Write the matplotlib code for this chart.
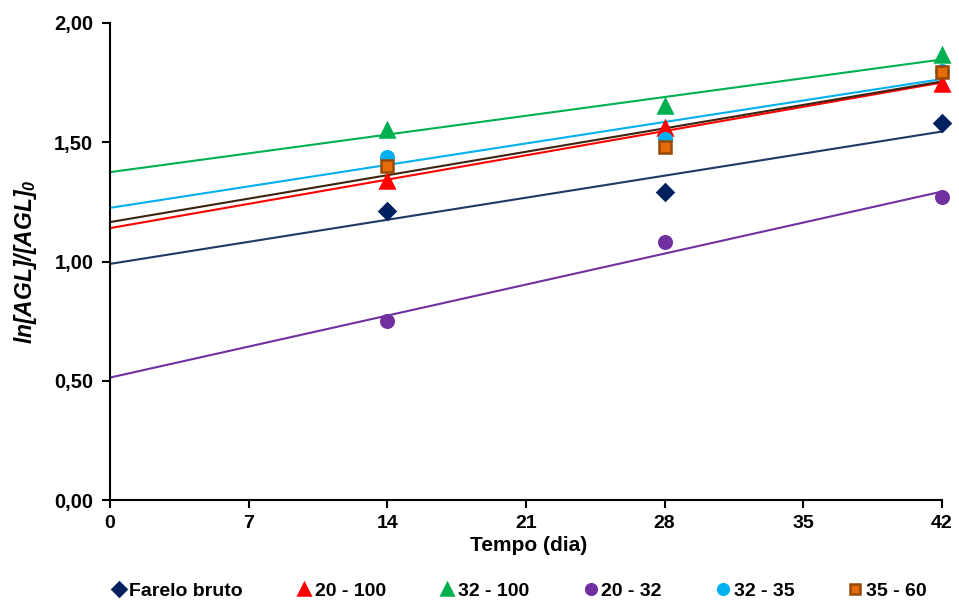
import numpy as np
import matplotlib
matplotlib.use('Agg')
from matplotlib import pyplot as plt
from matplotlib.ticker import FuncFormatter

plt.rcParams.update({'font.family': ['Liberation Sans', 'DejaVu Sans'],
                     'font.weight': 'bold',
                     'mathtext.fontset': 'custom',
                     'mathtext.rm': 'Liberation Sans:bold:italic',
                     'mathtext.it': 'Liberation Sans:bold:italic'})

# time (days)
tempo = np.array([14, 28, 42])

# ln[AGL]/[AGL]0
farelo_bruto = [1.21, 1.29, 1.58]
f20_100 = [1.337, 1.56, 1.744]
f32_100 = [1.551, 1.652, 1.866]
f20_32 = [0.75, 1.08, 1.27]
f32_35 = [1.44, 1.515, 1.80]
f35_60 = [1.40, 1.482, 1.793]

series = [
    ('Farelo bruto', farelo_bruto, 'D', '#002060', '#002060', '#1F3864', 8.5),
    ('20 - 100', f20_100, '^', '#FF0000', '#FF0000', '#FF0000', 10),
    ('32 - 100', f32_100, '^', '#00B050', '#00B050', '#00B050', 10),
    ('20 - 32', f20_32, 'o', '#7030A0', '#7030A0', '#7030A0', 9),
    ('32 - 35', f32_35, 'o', '#00B0F0', '#00B0F0', '#00B0F0', 9),
    ('35 - 60', f35_60, 's', '#E46C0A', '#984807', '#3D2410', 8),
]

fig = plt.figure(figsize=(9.59, 6.02), dpi=100)
ax = fig.add_axes([0.1147, 0.1694, 0.8676, 0.7924])

x_line = np.array([0, 42])
handles = []
for label, vals, mk, fc, ec, lc, ms in series:
    # linear trendline fitted on the three points
    slope, intercept = np.polyfit(tempo, vals, 1)
    ax.plot(x_line, intercept + slope * x_line, color=lc, lw=1.5, zorder=2)
    h, = ax.plot(tempo, vals, ls='none', marker=mk, ms=ms,
                 markerfacecolor=fc, markeredgecolor=ec, markeredgewidth=1.8,
                 zorder=3, label=label, clip_on=False)
    handles.append(h)

ax.set_xlim(0, 42)
ax.set_ylim(0, 2)
ax.set_xticks(np.arange(0, 43, 7))
ax.set_yticks(np.arange(0, 2.01, 0.5))
ax.yaxis.set_major_formatter(FuncFormatter(lambda v, p: f'{v:.2f}'.replace('.', ',')))

ax.spines['top'].set_visible(False)
ax.spines['right'].set_visible(False)
for s in ['left', 'bottom']:
    ax.spines[s].set_linewidth(1.5)
ax.tick_params(width=1.5, length=6, direction='out')
ax.tick_params(axis='x', pad=5, labelsize=14)
ax.tick_params(axis='y', pad=6, labelsize=14.5)
for lbl in ax.get_xticklabels() + ax.get_yticklabels():
    lbl.set_fontweight('bold')

ax.set_xlabel('Tempo (dia)', fontsize=15, fontweight='bold', va='center')
ax.xaxis.set_label_coords(0.503, -0.096)
ax.set_ylabel('ln[AGL]/[AGL]$_0$', fontsize=16.5, fontweight='bold',
              fontstyle='italic', va='center')
ax.yaxis.set_label_coords(-0.102, 0.5)

leg = fig.legend(handles=handles, loc='center', ncol=6, frameon=False,
                 bbox_to_anchor=(0.541, 0.018), fontsize=14,
                 handlelength=0.8, handletextpad=0.15, columnspacing=2.75,
                 markerscale=0.85)
for t in leg.get_texts():
    t.set_fontweight('bold')

fig.savefig('out.png', dpi=100)
